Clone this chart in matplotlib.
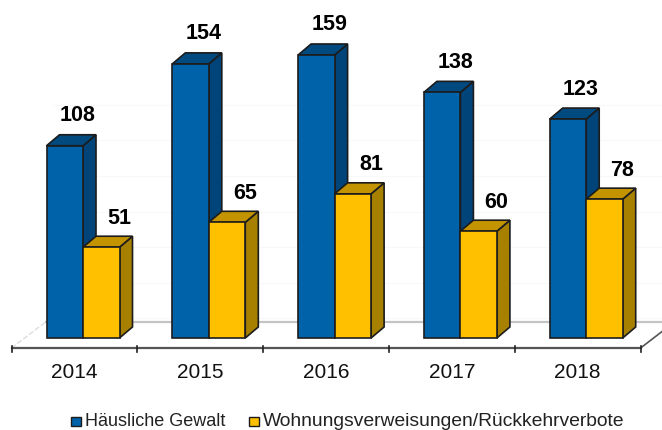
import matplotlib
matplotlib.use('Agg')
import matplotlib.pyplot as plt
from matplotlib.patches import Polygon, Rectangle
import numpy as np

plt.rcParams['font.family'] = ['Liberation Sans', 'DejaVu Sans']

years = ['2014', '2015', '2016', '2017', '2018']
gewalt = [108, 154, 159, 138, 123]
verbote = [51, 65, 81, 60, 78]
series_names = ['Häusliche Gewalt', 'Wohnungsverweisungen/Rückkehrverbote']
grid_vals = [20, 40, 60, 80, 100, 120, 140]

# pixel scale of the picture, axes fill the whole figure
W, H = 662, 430
X_PX = 125.8      # px per category
Y_PX = 1.78       # px per count
X0 = 74.5         # px of first category centre
Y0 = 338          # px of value 0

fig = plt.figure(figsize=(W / 100, H / 100), dpi=100)
ax = fig.add_axes([0, 0, 1, 1])
ax.set_xlim(-X0 / X_PX, (W - X0) / X_PX)
ax.set_ylim((Y0 - H) / Y_PX, Y0 / Y_PX)
ax.axis('off')

bw = 36.5 / X_PX
off = 8.5 / X_PX          # bars sit a little right of the category centre
dx = 13 / X_PX            # depth of the 3d look
dy = 11 / Y_PX
fl_dx = 26 / X_PX         # floor depth
front = -10 / Y_PX        # axis line below the bars
left = -0.5
right = len(years) - 0.5
x = np.arange(len(years))

# back wall grid and floor
for g in grid_vals:
    ax.plot([left + 42 / X_PX, right + fl_dx], [g - 16 / Y_PX] * 2,
            color='#f8f8f8', lw=0.8, zorder=1)
ax.plot([left + 34 / X_PX, right + fl_dx], [front + 26 / Y_PX] * 2, color='#c4c4c4', lw=1.6, zorder=2)
ax.plot([left, left + 34 / X_PX], [front, front + 26 / Y_PX], color='#dddddd', lw=1, ls='--', zorder=2)
ax.plot([right, right + fl_dx], [front, front + 20 / Y_PX], color='#555555', lw=1.2, zorder=2)

# axis line and ticks
ax.plot([left, right], [front, front], color='#555555', lw=1.6, zorder=2)
for t in np.arange(len(years) + 1) - 0.5:
    ax.plot([t, t], [front + 2 / Y_PX, front - 4 / Y_PX], color='#222222', lw=1.2, zorder=2)


def bar3d(ax, xs, vals, front_c, top_c, side_c, z):
    ax.bar(xs, vals, bw, align='edge', color=front_c, edgecolor='#1c1c1c', lw=1.2, zorder=z + 1)
    for xi, v in zip(xs, vals):
        ax.add_patch(Polygon([(xi + bw, 0), (xi + bw + dx, dy), (xi + bw + dx, v + dy), (xi + bw, v)],
                             closed=True, fc=side_c, ec='#1c1c1c', lw=1.2, zorder=z))
        ax.add_patch(Polygon([(xi, v), (xi + dx, v + dy), (xi + bw + dx, v + dy), (xi + bw, v)],
                             closed=True, fc=top_c, ec='#1c1c1c', lw=1.2, zorder=z))


bar3d(ax, x - bw + off, gewalt, '#0062a8', '#004a80', '#00447a', 3)
bar3d(ax, x + off, verbote, '#ffc000', '#c49400', '#a88000', 5)

# value labels
for xi, v in zip(x, gewalt):
    ax.text(xi + off - 0.2 * bw + 2 / X_PX, v + 30 / Y_PX, str(v), ha='center', va='center',
            fontsize=15.5, fontweight='bold', color='black', zorder=8)
for xi, v in zip(x, verbote):
    ax.text(xi + off + 0.5 * bw + 18 / X_PX, v + 29 / Y_PX, str(v), ha='center', va='center',
            fontsize=15.5, fontweight='bold', color='black', zorder=8)

# category labels
for xi, lab in zip(x, years):
    ax.text(xi, -34.5 / Y_PX, lab, ha='center', va='center', fontsize=15, color='#111111')

# legend drawn by hand, positions follow the picture
leg_y = -83.5 / Y_PX
for px, c, name, fs in [(71, '#0062a8', series_names[0], 13), (249, '#ffc000', series_names[1], 13.9)]:
    xl = (px - X0) / X_PX
    ax.add_patch(Rectangle((xl, leg_y - 4.5 / Y_PX), 10 / X_PX, 9 / Y_PX, fc=c, ec='#1c1c1c', lw=1))
    ax.text(xl + 14 / X_PX, leg_y, name, ha='left', va='center', fontsize=fs, color='#222222')

fig.savefig('out.png', dpi=100)
